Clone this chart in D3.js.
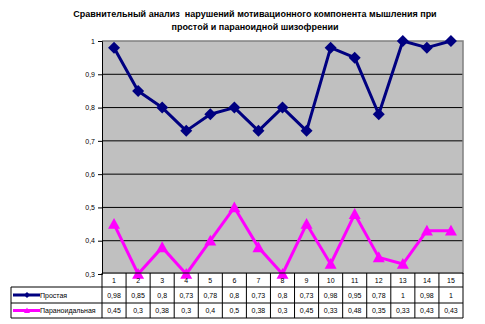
<!DOCTYPE html>
<html><head><meta charset="utf-8">
<script src="https://cdn.jsdelivr.net/npm/d3@7"></script>
<style>body{margin:0;background:#fff}svg{display:block}text{font-family:Arial,"Liberation Sans",sans-serif}</style>
</head><body>
<script>
const categories = ["1","2","3","4","5","6","7","8","9","10","11","12","13","14","15"];
const prostaya = [0.98,0.85,0.8,0.73,0.78,0.8,0.73,0.8,0.73,0.98,0.95,0.78,1,0.98,1];
const paranoid = [0.45,0.3,0.38,0.3,0.4,0.5,0.38,0.3,0.45,0.33,0.48,0.35,0.33,0.43,0.43];
const seriesNames = ["Простая","Параноидальная"];
const yTicks = [0.3,0.4,0.5,0.6,0.7,0.8,0.9,1];
const titleLines = ["Сравнительный анализ  нарушений мотивационного компонента мышления при","простой и параноидной шизофрении"];

const W=485,H=324;
const svg=d3.select("body").append("svg").attr("width",W).attr("height",H);
const L=102,R=463,T=41,B=274;
const x=d3.scaleBand().domain(categories).range([L,R]);
const y=d3.scaleLinear().domain([0.3,1]).range([B,T]);
const fmt=v=>String(v).replace(".",",");

// title
svg.append("g").selectAll("text").data(titleLines).join("text")
  .attr("x",255).attr("y",(d,i)=>17+i*13).attr("text-anchor","middle")
  .style("white-space","pre")
  .attr("font-size",9).attr("font-weight","bold").text(d=>d);

// plot area
svg.append("rect").attr("x",L).attr("y",T).attr("width",R-L).attr("height",B-T).attr("fill","#c0c0c0");
svg.append("g").selectAll("line").data(yTicks.filter(t=>t>0.3&&t<1)).join("line")
  .attr("x1",L).attr("x2",R).attr("y1",d=>y(d)).attr("y2",d=>y(d)).attr("stroke","#000").attr("stroke-width",1);
svg.append("path").attr("d",`M${L},${T}H${R}V${B}`).attr("fill","none").attr("stroke","#808080").attr("stroke-width",1.5);

// y axis
const ya=svg.append("g").attr("transform",`translate(${L},0)`)
  .call(d3.axisLeft(y).tickValues(yTicks).tickSize(4).tickPadding(3).tickFormat(fmt));
ya.selectAll("path,line").attr("stroke","#000");
ya.selectAll("text").attr("font-size",7).attr("font-family","Arial,'Liberation Sans',sans-serif").attr("fill","#000");

// lines
const cx=d=>x(d)+x.bandwidth()/2;
const line=(vals)=>d3.line().x((v,i)=>cx(categories[i])).y(v=>y(v))(vals);
svg.append("path").attr("d",line(prostaya)).attr("fill","none").attr("stroke","#000080").attr("stroke-width",3).attr("stroke-linejoin","round");
svg.append("path").attr("d",line(paranoid)).attr("fill","none").attr("stroke","#ff00ff").attr("stroke-width",3).attr("stroke-linejoin","round");

const diamond=(px,py,s)=>`M${px},${py-s}L${px+s},${py}L${px},${py+s}L${px-s},${py}Z`;
const tri=(px,py,s)=>`M${px},${py-s}L${px+s},${py+s*0.8}L${px-s},${py+s*0.8}Z`;
svg.append("g").selectAll("path").data(prostaya).join("path")
  .attr("d",(v,i)=>diamond(cx(categories[i]),y(v),6)).attr("fill","#000080");
svg.append("g").selectAll("path").data(paranoid).join("path")
  .attr("d",(v,i)=>tri(cx(categories[i]),y(v),6)).attr("fill","#ff00ff");

// data table
const rowY=[273,287,303,318];
const tg=svg.append("g");
function ln(x1,y1,x2,y2){tg.append("line").attr("x1",x1).attr("y1",y1).attr("x2",x2).attr("y2",y2).attr("stroke","#000").attr("stroke-width",1);}
ln(L,rowY[0],R,rowY[0]);
ln(11,rowY[1],R,rowY[1]);
ln(11,rowY[2],R,rowY[2]);
ln(11,rowY[3],R,rowY[3]);
ln(11,rowY[1],11,rowY[3]);
categories.forEach(c=>ln(x(c),rowY[0],x(c),rowY[3]));
ln(R,rowY[0],R,rowY[3]);
tg.selectAll("text.h").data(categories).join("text").attr("class","h")
  .attr("x",d=>cx(d)).attr("y",(rowY[0]+rowY[1])/2+2.5).attr("text-anchor","middle").attr("font-size",7).text(d=>d);
[prostaya,paranoid].forEach((vals,r)=>{
  tg.append("g").selectAll("text").data(vals).join("text")
    .attr("x",(v,i)=>cx(categories[i])).attr("y",(rowY[r+1]+rowY[r+2])/2+2.5)
    .attr("text-anchor","middle").attr("font-size",7).text(v=>fmt(v));
});
// legend keys
const colors=["#000080","#ff00ff"];
seriesNames.forEach((n,r)=>{
  const yy=(rowY[r+1]+rowY[r+2])/2;
  tg.append("line").attr("x1",13).attr("x2",40).attr("y1",yy).attr("y2",yy).attr("stroke",colors[r]).attr("stroke-width",3);
  tg.append("path").attr("d",r===0?diamond(27,yy,3):tri(27,yy,3)).attr("fill",colors[r]);
  tg.append("text").attr("x",40).attr("y",yy+2.5).attr("font-size",7).text(n);
});
</script>
</body></html>
